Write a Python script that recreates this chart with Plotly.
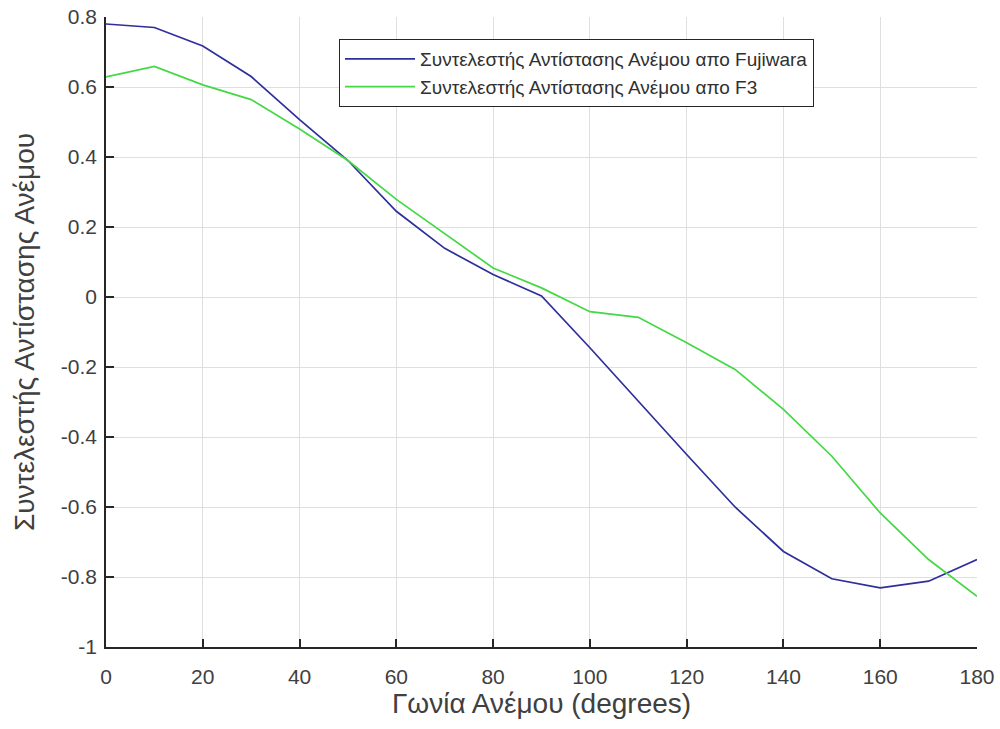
import plotly.graph_objects as go

angles = [0, 10, 20, 30, 40, 50, 60, 70, 80, 90, 100, 110, 120, 130, 140, 150, 160, 170, 180]
cx_fujiwara = [0.78, 0.77, 0.717, 0.63, 0.507, 0.39, 0.245, 0.139, 0.064, 0.003, -0.145, -0.298, -0.45, -0.6, -0.727, -0.805, -0.831, -0.812, -0.75]
cx_f3 = [0.629, 0.659, 0.606, 0.564, 0.48, 0.39, 0.279, 0.18, 0.083, 0.026, -0.042, -0.058, -0.131, -0.207, -0.321, -0.455, -0.617, -0.75, -0.855]

name_fuj = "Συντελεστής Αντίστασης Ανέμου απο Fujiwara"
name_f3 = "Συντελεστής Αντίστασης Ανέμου απο F3"
x_title = "Γωνία Ανέμου (degrees)"
y_title = "Συντελεστής Αντίστασης Ανέμου"
x_ticks = [0, 20, 40, 60, 80, 100, 120, 140, 160, 180]
y_ticks = [-1, -0.8, -0.6, -0.4, -0.2, 0, 0.2, 0.4, 0.6, 0.8]
y_ticktext = ["-1", "-0.8", "-0.6", "-0.4", "-0.2", "0", "0.2", "0.4", "0.6", "0.8"]

font_family = "Liberation Sans, Arial, sans-serif"

fig = go.Figure()
fig.add_trace(go.Scatter(x=angles, y=cx_fujiwara, mode="lines", name=name_fuj,
                         line=dict(color="#2e2e9c", width=1.7)))
fig.add_trace(go.Scatter(x=angles, y=cx_f3, mode="lines", name=name_f3,
                         line=dict(color="#44d844", width=1.7)))

fig.update_layout(
    width=1000, height=729,
    margin=dict(l=106, r=23, t=17, b=82),
    paper_bgcolor="white", plot_bgcolor="white",
    font=dict(family=font_family, color="#404040"),
    showlegend=True,
    legend=dict(
        x=0.2675, y=0.965, xanchor="left", yanchor="top",
        bgcolor="white", bordercolor="#262626", borderwidth=1,
        font=dict(size=19, color="#303030", family=font_family),
        tracegroupgap=0, itemwidth=70,
    ),
    xaxis=dict(
        range=[0, 180], tickvals=x_ticks,
        showgrid=True, gridcolor="#dfdfdf", gridwidth=1,
        showline=True, linecolor="#262626", linewidth=1.5,
        ticks="inside", ticklen=8, tickcolor="#262626", tickwidth=1.5,
        tickfont=dict(size=21, color="#404040"),
        zeroline=False, mirror=False, automargin=False,
        title=dict(text=x_title, font=dict(size=28, color="#404040"), standoff=4),
        ticklabelstandoff=10,
    ),
    yaxis=dict(
        range=[-1, 0.8], tickvals=y_ticks, ticktext=y_ticktext,
        showgrid=True, gridcolor="#dfdfdf", gridwidth=1,
        showline=True, linecolor="#262626", linewidth=1.5,
        ticks="inside", ticklen=8, tickcolor="#262626", tickwidth=1.5,
        tickfont=dict(size=21, color="#404040"),
        zeroline=False, mirror=False, automargin=False,
        title=dict(text=y_title, font=dict(size=28, color="#404040"), standoff=18),
        ticklabelstandoff=3,
    ),
)

fig.write_html("out.html")
